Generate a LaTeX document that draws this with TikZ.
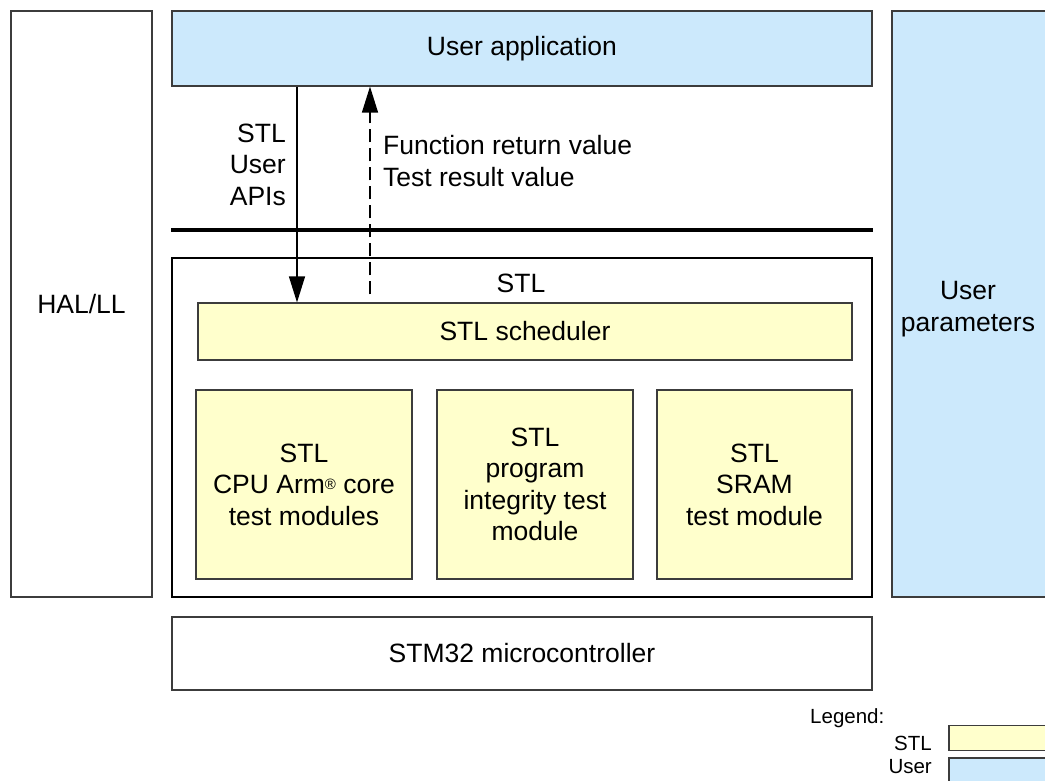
\documentclass[tikz,border=0pt]{standalone}
\usepackage{fontspec}
\setmainfont{Liberation Sans}
\usetikzlibrary{arrows.meta}
\definecolor{userblue}{RGB}{204,233,252}
\definecolor{stlyellow}{RGB}{255,255,204}
\definecolor{edgegrey}{RGB}{60,60,60}
\newcommand\bigtxt{\fontsize{26.5}{31.5}\selectfont}
\newcommand\legtxt{\fontsize{20.5}{24}\selectfont}
\begin{document}
\begin{tikzpicture}[x=1pt,y=-1pt,
  box/.style={draw=edgegrey, line width=1.2pt, inner sep=0pt, align=center, font=\bigtxt},
  userbox/.style={box, fill=userblue},
  stlbox/.style={box, fill=stlyellow},
  plainbox/.style={box, fill=white},
  txt/.style={inner sep=0pt, align=center, font=\bigtxt},
  legendtxt/.style={inner sep=0pt, font=\legtxt},
  callarrow/.style={line width=1.3pt, -{Triangle[width=16pt,length=26pt]}},
  retarrow/.style={line width=1.3pt, dash pattern=on 13pt off 6pt, -{Triangle[width=16pt,length=26pt]}},
  sepline/.style={line width=3.5pt}
]
\useasboundingbox (0,0) rectangle (1045,781);
\fill[white] (0,0) rectangle (1045,781);

% left and right columns
\node[plainbox, minimum width=141pt, minimum height=586pt] (hal) at (81.5,304) {HAL/LL};
\node[userbox, minimum width=154pt, minimum height=586pt] (params) at (969,304) {};
\node[txt] (paramslabel) at (968,309) {User\\parameters};

% user application
\node[userbox, minimum width=700pt, minimum height=75pt] (app) at (522,48.5) {User application};

% separator
\coordinate (sep) at (0,230);
\draw[sepline] (app.west |- sep) -- (app.east |- sep);

% STL block
\node[draw=black, line width=1.5pt, fill=white, minimum width=700pt, minimum height=339pt, inner sep=0pt] (stl) at (522,427.5) {};
\node[txt] (stllabel) at (521,283.5) {STL};
\node[stlbox, minimum width=654pt, minimum height=57pt] (sched) at (525,331.5) {STL scheduler};
\node[stlbox, minimum width=216pt, minimum height=189pt] (cpu) at (304,484.5) {STL\\CPU Arm{\fontsize{15}{15}\selectfont\raisebox{4pt}{®}} core\\test modules};
\node[stlbox, minimum width=196pt, minimum height=189pt] (prog) at (535,484.5) {STL\\program\\integrity test\\module};
\node[stlbox, minimum width=195pt, minimum height=189pt] (sram) at (754.5,484.5) {STL\\SRAM\\test module};

% microcontroller
\node[plainbox, minimum width=700pt, minimum height=73pt] (mcu) at (522,653.5) {STM32 microcontroller};

% arrows
\coordinate (apix) at (297,0);
\coordinate (retx) at (370,0);
\draw[callarrow] (app.south -| apix) -- (sched.north -| apix);
\draw[retarrow, shorten <=8pt] (sched.north -| retx) -- (app.south -| retx);
\node[txt, align=right, anchor=east] (apilabel) at (286,164.5) {STL\\User\\APIs};
\node[txt, align=left, anchor=west] (retlabel) at (383,161) {Function return value\\Test result value};

% legend
\node[legendtxt, anchor=base west] (legend) at (810,723) {Legend:};
\node[legendtxt, anchor=base east] (legstltxt) at (932,750) {STL};
\node[legendtxt, anchor=base east] (legusertxt) at (932,773) {User};
\node[stlbox, minimum width=104pt, minimum height=25pt] (legstl) at (1001,738) {};
\node[userbox, minimum width=104pt, minimum height=34pt] (leguser) at (1001,775) {};
\end{tikzpicture}
\end{document}
